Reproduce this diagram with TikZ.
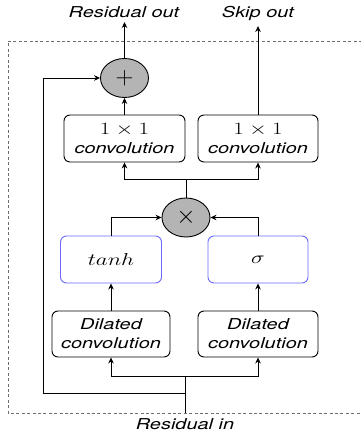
\documentclass[tikz,border=0pt]{standalone}
\usepackage{fontspec}
\usepackage{graphicx}
\newfontfamily\helv{TeX Gyre Heros}
\usetikzlibrary{shapes.geometric,arrows.meta}
\definecolor{opgray}{HTML}{B4B4B4}
\definecolor{actblue}{HTML}{6A6AFF}
\definecolor{framegray}{HTML}{6E6E6E}
\newcommand{\sx}[1]{\scalebox{1.33}[1]{#1}}
\newcommand{\lab}[1]{\sx{\helv\itshape #1}}
\newcommand{\mth}[1]{\sx{\fontsize{19}{19}\selectfont$#1$}}
\begin{document}
\begin{tikzpicture}[x=1pt,y=-1pt,
  box/.style={draw, rounded corners=6pt, line width=0.9pt, minimum height=47pt,
    inner sep=0pt, align=center, font=\fontsize{15}{19}\selectfont},
  actbox/.style={box, draw=actblue},
  op/.style={ellipse, draw, fill=opgray, line width=0.9pt, minimum width=48pt,
    minimum height=39pt, inner sep=0pt},
  arr/.style={-{Stealth[length=6pt,width=5.5pt]}, line width=0.9pt},
  ln/.style={line width=0.9pt},
  lbl/.style={inner sep=0pt, font=\fontsize{15}{17}\selectfont, anchor=base},
  frame/.style={draw=framegray, line width=0.8pt, dash pattern=on 3pt off 2.4pt}]
\useasboundingbox (0,0) rectangle (361,436);
% frame
\draw[frame] (362,41) -- (8,41) -- (8,413) -- (362,413);
% labels
\node[lbl] (ro) at (124,18) {\lab{Residual out}};
\node[lbl] (so) at (258,18) {\lab{Skip out}};
\node[lbl] (ri) at (185,429) {\lab{Residual in}};
% operators
\node[op] (plus) at (124.5,78) {\fontsize{30}{30}\selectfont$+$};
\node[op] (times) at (186,217.5) {\fontsize{24}{24}\selectfont$\times$};
% boxes
\node[box, minimum width=121pt] (c1L) at (124.5,138.5) {\mth{1\times1}\\\lab{convolution}};
\node[box, minimum width=120pt] (c1R) at (258,138.5) {\mth{1\times1}\\\lab{convolution}};
\node[actbox, minimum width=101pt] (tanh) at (111,259.5) {\mth{tanh}};
\node[actbox, minimum width=100pt] (sig) at (258,259.5) {\mth{\sigma}};
\node[box, minimum width=118pt, minimum height=46pt] (dL) at (111,334) {\lab{Dilated}\\\lab{convolution}};
\node[box, minimum width=120pt, minimum height=46pt] (dR) at (258,334) {\lab{Dilated}\\\lab{convolution}};
% coordinates
\coordinate (roTip) at (124.5,22);
\coordinate (soTip) at (258,26);
\coordinate (in) at (185,413);
\coordinate (j) at (185,376);
\coordinate (fb) at (185,393);
\coordinate (fbL) at (43,393);
\coordinate (mj) at (186,179);
% connectors
\draw[arr] (plus.north) -- (roTip);
\draw[arr] (c1R.north) -- (soTip);
\draw[arr] (c1L.north) -- (plus.south);
\draw[ln] (in) -- (j);
\draw[arr] (j) -| (dL.south);
\draw[arr] (j) -| (dR.south);
\draw[arr] (fb) -- (fbL) |- (plus.west);
\draw[arr] (dL.north) -- (tanh.south);
\draw[arr] (dR.north) -- (sig.south);
\draw[arr] (tanh.north) |- (times.west);
\draw[arr] (sig.north) |- (times.east);
\draw[ln] (times.north) -- (mj);
\draw[arr] (mj) -| (c1L.south);
\draw[arr] (mj) -| (c1R.south);
\end{tikzpicture}
\end{document}
